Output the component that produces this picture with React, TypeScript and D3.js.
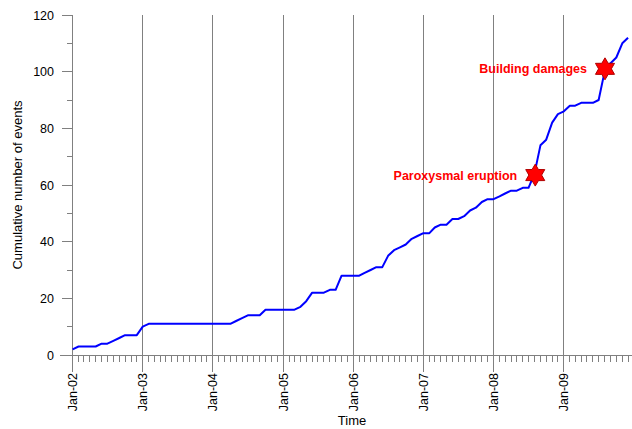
import React, { useEffect, useRef } from 'react';
import * as d3 from 'd3';

// monthly cumulative counts, one array per year (Jan..Dec)
const counts2002 = [2, 3, 3, 3, 3, 4, 4, 5, 6, 7, 7, 7];
const counts2003 = [10, 11, 11, 11, 11, 11, 11, 11, 11, 11, 11, 11];
const counts2004 = [11, 11, 11, 11, 12, 13, 14, 14, 14, 16, 16, 16];
const counts2005 = [16, 16, 16, 17, 19, 22, 22, 22, 23, 23, 28, 28];
const counts2006 = [28, 28, 29, 30, 31, 31, 35, 37, 38, 39, 41, 42];
const counts2007 = [43, 43, 45, 46, 46, 48, 48, 49, 51, 52, 54, 55];
const counts2008 = [55, 56, 57, 58, 58, 59, 59, 64, 74, 76, 82, 85];
const counts2009 = [86, 88, 88, 89, 89, 89, 90, 100, 103, 105, 110, 112];

const years = [2002, 2003, 2004, 2005, 2006, 2007, 2008, 2009];
const yearCounts = [counts2002, counts2003, counts2004, counts2005, counts2006, counts2007, counts2008, counts2009];

const eventLabels = ['Paroxysmal eruption', 'Building damages'];
const eventDates = ['2008-08-05', '2009-08-03'];
const eventValues = [63.5, 101];

const yTicks = [0, 20, 40, 60, 80, 100, 120];

interface Point {
  date: Date;
  value: number;
}

const font = '"Liberation Sans", Arial, sans-serif';

const App: React.FC = () => {
  const svgRef = useRef<SVGSVGElement | null>(null);

  useEffect(() => {
    if (!svgRef.current) return;
    const width = 632;
    const height = 429;
    const top = 15;
    const bottom = 355;
    const left = 72.6;

    const svg = d3.select(svgRef.current);
    svg.selectAll('*').remove();
    svg.attr('width', width).attr('height', height);

    const data: Point[] = [];
    years.forEach((yr, i) => {
      yearCounts[i].forEach((v, m) => data.push({ date: new Date(yr, m, 1), value: v }));
    });

    const x = d3.scaleTime()
      .domain([new Date(2002, 0, 1), new Date(2010, 0, 1)])
      .range([left, 634]);

    const y = d3.scaleLinear()
      .domain([0, 120])
      .range([bottom, top]);

    const grey = '#808080';

    // vertical year gridlines
    const yearTicks = x.ticks(d3.timeYear.every(1)!).filter(d => x(d) <= width);
    svg.append('g')
      .selectAll('line')
      .data(yearTicks)
      .enter()
      .append('line')
      .attr('x1', d => x(d))
      .attr('x2', d => x(d))
      .attr('y1', top)
      .attr('y2', 372)
      .attr('stroke', grey)
      .attr('stroke-width', 1)
      .attr('shape-rendering', 'crispEdges');

    // monthly minor ticks
    const monthTicks = d3.timeMonth.range(new Date(2002, 0, 1), new Date(2010, 0, 1))
      .filter(d => x(d) <= width);
    svg.append('g')
      .selectAll('line')
      .data(monthTicks)
      .enter()
      .append('line')
      .attr('x1', d => x(d))
      .attr('x2', d => x(d))
      .attr('y1', bottom)
      .attr('y2', bottom + 7)
      .attr('stroke', grey)
      .attr('stroke-width', 1)
      .attr('shape-rendering', 'crispEdges');

    // x axis line
    svg.append('line')
      .attr('x1', 60).attr('x2', width)
      .attr('y1', bottom).attr('y2', bottom)
      .attr('stroke', grey)
      .attr('shape-rendering', 'crispEdges');

    // y axis
    svg.append('line')
      .attr('x1', left).attr('x2', left)
      .attr('y1', top).attr('y2', bottom + 7)
      .attr('stroke', grey)
      .attr('shape-rendering', 'crispEdges');

    const minorY = d3.range(0, 121, 10);
    svg.append('g')
      .selectAll('line')
      .data(minorY)
      .enter()
      .append('line')
      .attr('x1', d => (d % 20 === 0 ? left - 11 : left - 6))
      .attr('x2', left)
      .attr('y1', d => y(d))
      .attr('y2', d => y(d))
      .attr('stroke', grey)
      .attr('shape-rendering', 'crispEdges');

    svg.append('g')
      .selectAll('text')
      .data(yTicks)
      .enter()
      .append('text')
      .attr('x', 54)
      .attr('y', d => y(d) + 4.5)
      .attr('text-anchor', 'end')
      .style('font-family', font)
      .style('font-size', '12.5px')
      .text(d => d);

    // x tick labels
    const fmt = d3.timeFormat('%b-%y');
    svg.append('g')
      .selectAll('text')
      .data(yearTicks)
      .enter()
      .append('text')
      .attr('transform', d => `translate(${x(d) + 4.5}, 373) rotate(-90)`)
      .attr('text-anchor', 'end')
      .style('font-family', font)
      .style('font-size', '12.5px')
      .text(d => fmt(d));

    // axis titles
    svg.append('text')
      .attr('x', 352)
      .attr('y', 425)
      .attr('text-anchor', 'middle')
      .style('font-family', font)
      .style('font-size', '13px')
      .text('Time');

    svg.append('text')
      .attr('transform', `translate(22, ${(top + bottom) / 2}) rotate(-90)`)
      .attr('text-anchor', 'middle')
      .style('font-family', font)
      .style('font-size', '13px')
      .text('Cumulative number of events');

    // line
    const line = d3.line<Point>()
      .x(d => x(d.date))
      .y(d => y(d.value));

    svg.append('path')
      .datum(data)
      .attr('fill', 'none')
      .attr('stroke', '#0000ff')
      .attr('stroke-width', 2)
      .attr('stroke-linejoin', 'round')
      .attr('d', line);

    // star markers
    const starPts: [number, number][] = d3.range(12).map(i => [
      (i * Math.PI) / 6,
      i % 2 === 0 ? 11 : 6.4,
    ]);
    const star = d3.lineRadial().curve(d3.curveLinearClosed)(starPts);

    const parse = d3.timeParse('%Y-%m-%d');
    eventLabels.forEach((label, i) => {
      const cx = x(parse(eventDates[i])!);
      const cy = y(eventValues[i]);
      svg.append('path')
        .attr('d', star)
        .attr('transform', `translate(${cx}, ${cy})`)
        .attr('fill', '#ff0000')
        .attr('stroke', '#b00000')
        .attr('stroke-width', 1);
      svg.append('text')
        .attr('x', cx - 18)
        .attr('y', cy + 4.5)
        .attr('text-anchor', 'end')
        .attr('fill', '#ff0000')
        .style('font-family', font)
        .style('font-size', '12.5px')
        .style('font-weight', 'bold')
        .text(label);
    });
  }, []);

  return (
    <div style={{ position: 'absolute', left: 0, top: 0 }}>
      <svg ref={svgRef} style={{ display: 'block' }} />
    </div>
  );
};

export default App;
